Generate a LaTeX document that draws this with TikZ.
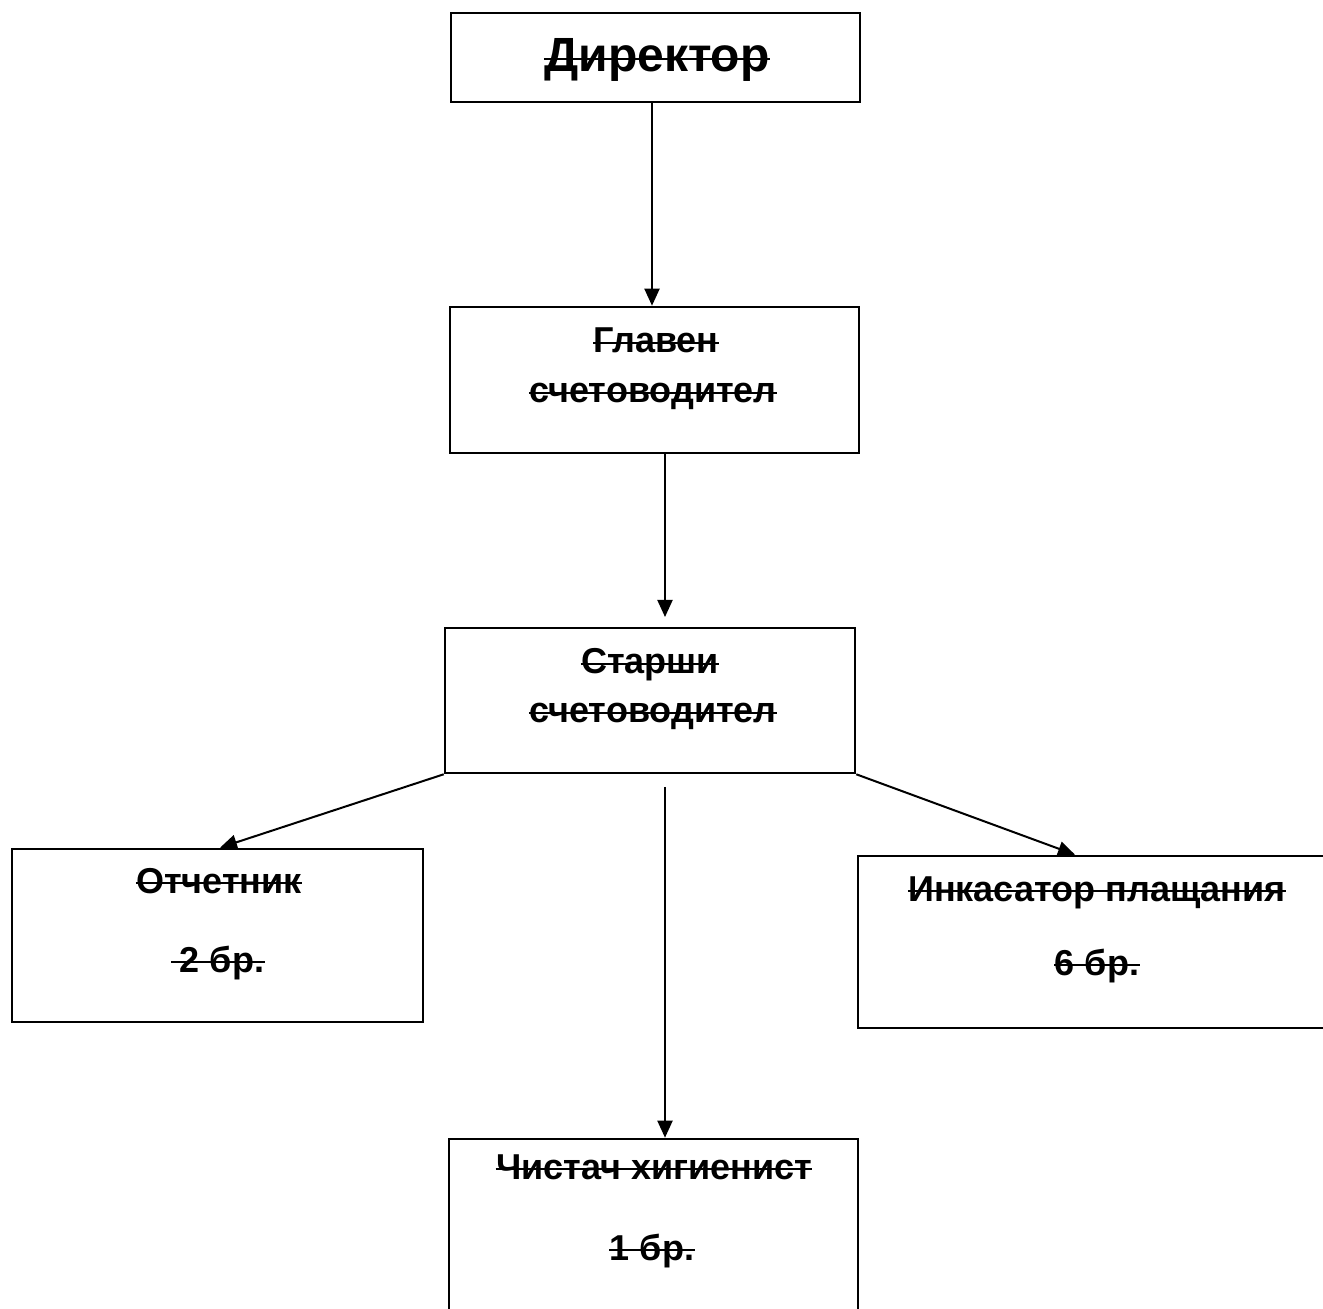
\documentclass[tikz,border=0pt]{standalone}
\usepackage{fontspec}
\setmainfont{Liberation Sans}
\usetikzlibrary{arrows.meta}
\tikzset{
  box/.style={draw, line width=1.3pt, inner sep=0pt, fill=none},
  lbl/.style={anchor=base, inner sep=0pt, font=\bfseries\fontsize{18}{21}\selectfont},
  biglbl/.style={anchor=base, inner sep=0pt, font=\bfseries\fontsize{24}{28}\selectfont},
  conn/.style={line width=1pt, -{Triangle[length=8.5pt,width=7.5pt]}},
  strikeline/.style={line width=1.2pt}
}
\newcommand{\strk}[3][0pt]{\draw[strikeline] ([yshift=#3,xshift=-#1]#2.base west) -- ([yshift=#3]#2.base east);}
\begin{document}
\begin{tikzpicture}[x=0.5pt,y=-0.5pt]
\useasboundingbox (0,0) rectangle (1323,1309);
\fill[white] (0,0) rectangle (1323,1309);
% boxes
\node[box, minimum width=204.5pt, minimum height=44.5pt] (dir) at (655.5,57.5) {};
\node[box, minimum width=204.5pt, minimum height=73pt] (glav) at (654.5,380) {};
\node[box, minimum width=205pt, minimum height=72.5pt] (star) at (650,700.5) {};
\node[box, minimum width=205.5pt, minimum height=86.5pt] (otch) at (217.5,935.5) {};
\node[box, minimum width=239pt, minimum height=86pt] (ink) at (1097,942) {};
\node[box, minimum width=204.5pt, minimum height=100pt] (chis) at (653.5,1239) {};
% texts
\node[biglbl] (tdir) at (657,72) {Директор};
\node[lbl] (tglav1) at (656,353) {Главен};
\node[lbl] (tglav2) at (653,403) {счетоводител};
\node[lbl] (tstar1) at (650,674) {Старши};
\node[lbl] (tstar2) at (653,723) {счетоводител};
\node[lbl] (totch1) at (219,893) {Отчетник};
\node[lbl] (totch2) at (222,972) {2 бр.};
\node[lbl] (tink1) at (1097,901) {Инкасатор плащания};
\node[lbl] (tink2) at (1097,975) {6 бр.};
\node[lbl] (tchis1) at (654,1179) {Чистач хигиенист};
\node[lbl] (tchis2) at (652,1260) {1 бр.};
% strike-through lines
\strk{tdir}{6.6pt}
\strk{tglav1}{5pt}
\strk{tglav2}{5pt}
\strk{tstar1}{5pt}
\strk{tstar2}{5pt}
\strk{totch1}{5pt}
\strk[4pt]{totch2}{5pt}
\strk{tink1}{5pt}
\strk{tink2}{5pt}
\strk{tchis1}{5pt}
\strk{tchis2}{5pt}
% connectors
\coordinate (a2end) at (665,617);
\coordinate (l5start) at (665,787);
\draw[conn] ([xshift=-1.75pt]dir.south) -- ([xshift=-1.25pt]glav.north);
\draw[conn] ([xshift=5.25pt]glav.south) -- (a2end);
\draw[conn] (star.south west) -- ([xshift=1.25pt]otch.north);
\draw[conn] (star.south east) -- ([xshift=-11pt]ink.north);
\draw[conn] (l5start) -- (l5start |- chis.north);
\end{tikzpicture}
\end{document}
